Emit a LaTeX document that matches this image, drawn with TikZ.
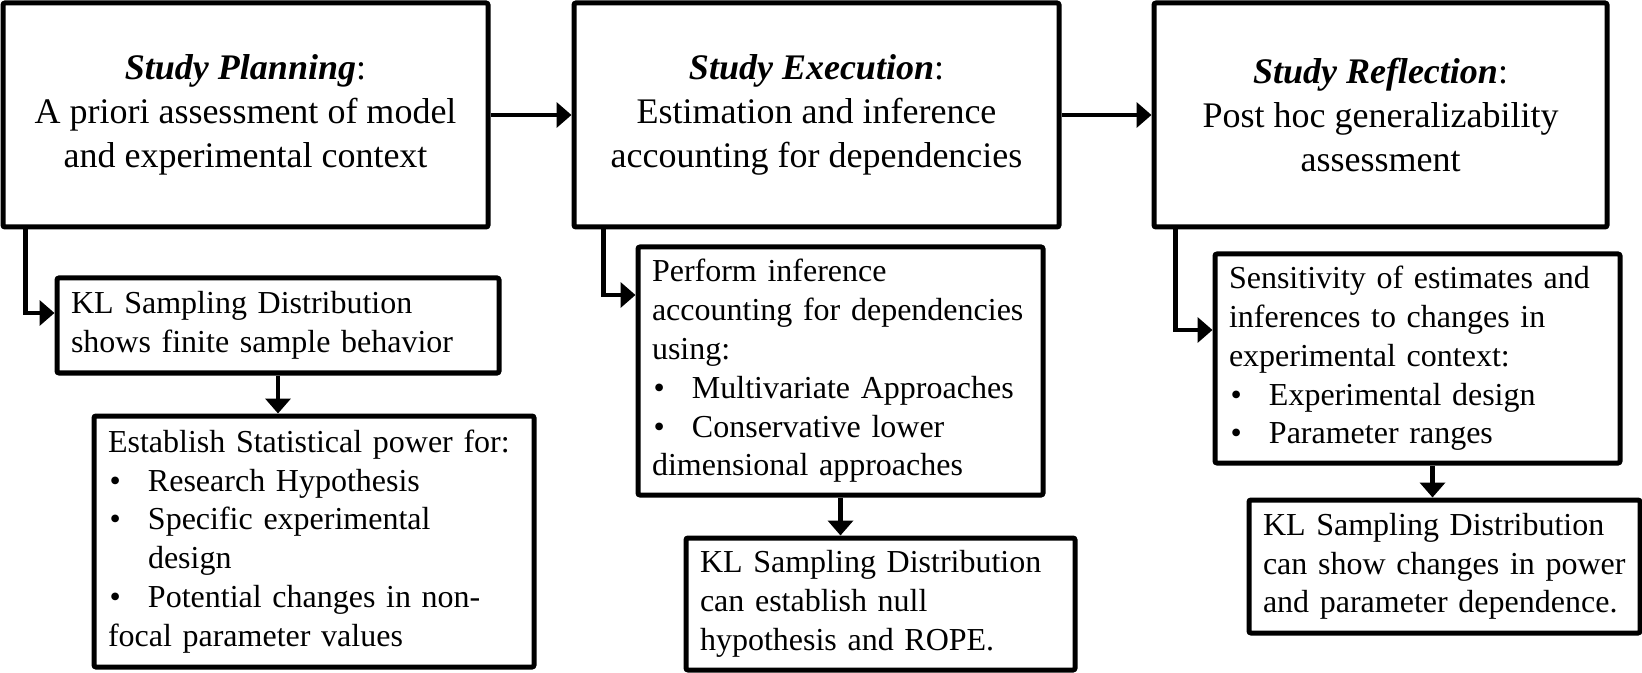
\documentclass[tikz,border=0pt]{standalone}
\usepackage{fontspec}
\setmainfont{Liberation Serif}
\usepackage{tikz}
\usetikzlibrary{arrows.meta, positioning, calc}
\tikzset{
  stage box/.style={rectangle, draw, line width=2.5pt, rounded corners=1pt, align=center, inner sep=0pt, font=\fontsize{18}{22}\selectfont},
  info box/.style={rectangle, draw, line width=2.5pt, rounded corners=1pt, align=left, inner xsep=7pt, inner ysep=0pt, font=\fontsize{16}{19.4}\selectfont},
  arr/.style={-{Triangle[length=7.5pt, width=12.5pt]}, line width=2.4pt},
}
\newcommand{\bulitem}{\par\hangindent=20pt\hangafter=1\noindent\makebox[20pt][l]{\hspace{0.8pt}\textbullet}}

\begin{document}
\begin{tikzpicture}[x=0.5pt, y=-0.5pt]
  \useasboundingbox (0,0) rectangle (1642,673);

  % Stages
  \node[stage box, minimum width=242.5pt, minimum height=112pt] (plan) at (245.5,115)
    {\textbf{\textit{Study Planning}}:\\A priori assessment of model\\and experimental context};
  \node[stage box, minimum width=242.5pt, minimum height=112pt] (exec) at (816.5,115)
    {\textbf{\textit{Study Execution}}:\\Estimation and inference\\accounting for dependencies};
  \node[stage box, minimum width=226.5pt, minimum height=112pt] (refl) at (1380.5,115)
    {\textbf{\textit{Study Reflection}}:\\Post hoc generalizability\\assessment};

  \draw[arr] (plan.east) -- (exec.west);
  \draw[arr] (exec.east) -- (refl.west);

  % Planning details
  \node[info box, text width=207pt, minimum height=47.5pt] (kldist) at (278,325.5)
    {KL Sampling Distribution\\shows finite sample behavior};
  \node[info box, text width=206pt, minimum height=125.5pt] (power) at (314,541.5)
    {Establish Statistical power for:
     \bulitem Research Hypothesis
     \bulitem Specific experimental\newline design
     \bulitem Potential changes in non-\newline focal parameter values};

  \draw[arr] ([xshift=12.5pt]plan.south west) |- ([yshift=6.25pt]kldist.west);
  \draw[arr] (kldist.south) -- (kldist.south |- power.north);

  % Execution details
  \node[info box, text width=188.5pt, minimum height=124pt] (infer) at (840.5,371)
    {Perform inference\newline accounting for dependencies\newline using:
     \bulitem Multivariate Approaches
     \bulitem Conservative lower\newline dimensional approaches};
  \node[info box, text width=180.5pt, minimum height=66pt] (klnull) at (880.5,604)
    {KL Sampling Distribution\\can establish null\\hypothesis and ROPE.};

  \draw[arr] ([xshift=16pt]exec.south west) |- ([yshift=38pt]infer.west);
  \draw[arr] (infer.south) -- (infer.south |- klnull.north);

  % Reflection details
  \node[info box, text width=188.5pt, minimum height=104.5pt] (sens) at (1417.5,358.5)
    {Sensitivity of estimates and\newline inferences to changes in\newline experimental context:
     \bulitem Experimental design
     \bulitem Parameter ranges};
  \node[info box, text width=181.5pt, minimum height=66.5pt] (klpower) at (1444.5,566.5)
    {KL Sampling Distribution\\can show changes in power\\and parameter dependence.};

  \draw[arr] ([xshift=12pt]refl.south west) |- ([yshift=14.25pt]sens.west);
  \draw[arr] ([xshift=7.5pt]sens.south) -- ([xshift=7.5pt]sens.south |- klpower.north);
\end{tikzpicture}
\end{document}
